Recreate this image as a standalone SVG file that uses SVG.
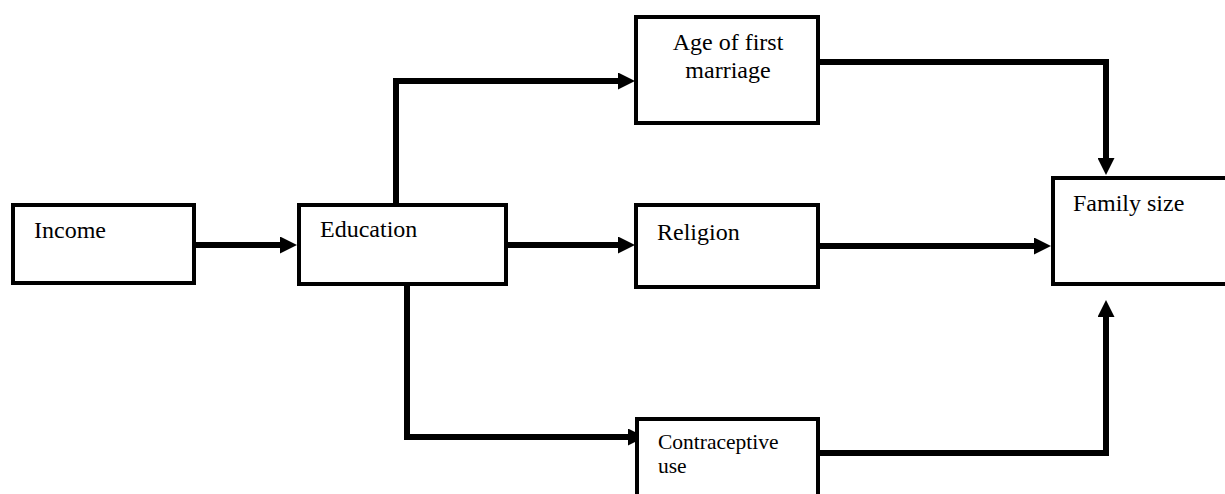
<svg xmlns="http://www.w3.org/2000/svg" width="1225" height="494" viewBox="0 0 1225 494">
<style>
.box{fill:#fff;stroke:#000;stroke-width:4}
.lbl{font-family:'Liberation Serif','DejaVu Serif',serif;font-size:24px;fill:#000}
.sm{font-size:21.5px}
.con{fill:none;stroke:#000;stroke-width:6;stroke-linejoin:miter;marker-end:url(#ah)}
</style>
<defs>
<marker id="ah" markerUnits="userSpaceOnUse" markerWidth="17" markerHeight="17" viewBox="0 0 17 17" refX="0" refY="8.5" orient="auto">
<path d="M0,0 L17,8.5 L0,17 Z" fill="#000"/>
</marker>
</defs>
<rect width="1225" height="494" fill="#fff"/>
<g id="connectors">
<path class="con" d="M196,245 H280"/>
<path class="con" d="M396,203 V81 H618"/>
<path class="con" d="M508,245 H618"/>
<path class="con" d="M407,286 V437 H628"/>
<path class="con" d="M820,62 H1106 V158"/>
<path class="con" d="M820,246 H1034"/>
<path class="con" d="M820,453 H1106 V317"/>
</g>
<g id="income">
<rect class="box" x="13" y="205" width="181" height="78"/>
<text class="lbl" x="34" y="238">Income</text>
</g>
<g id="education">
<rect class="box" x="299" y="205" width="207" height="79"/>
<text class="lbl" x="320" y="237">Education</text>
</g>
<g id="age">
<rect class="box" x="636" y="17" width="182" height="106"/>
<text class="lbl" x="728" y="50" text-anchor="middle">Age of first</text>
<text class="lbl" x="728" y="78" text-anchor="middle">marriage</text>
</g>
<g id="religion">
<rect class="box" x="636" y="205" width="182" height="82"/>
<text class="lbl" x="657" y="240">Religion</text>
</g>
<g id="contraceptive">
<path class="box" d="M637,500 V419 H818 V500"/>
<text class="lbl sm" x="658" y="449">Contraceptive</text>
<text class="lbl sm" x="658" y="473">use</text>
</g>
<g id="family">
<path class="box" d="M1235,178 H1053 V284 H1235"/>
<text class="lbl" x="1073" y="211">Family size</text>
</g>
</svg>
